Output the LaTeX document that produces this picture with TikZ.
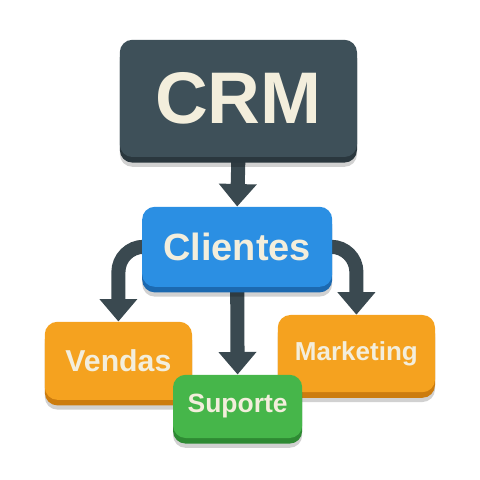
\documentclass[tikz,border=0pt]{standalone}
\usepackage{fontspec}
\setmainfont{Liberation Sans}
\usetikzlibrary{arrows.meta,shadows,backgrounds}
\definecolor{cream}{HTML}{F3EEDC}
\definecolor{slate}{HTML}{3E5059}
\definecolor{slatedark}{HTML}{2A373E}
\definecolor{skyblue}{HTML}{2B8FE3}
\definecolor{skybluedark}{HTML}{1C69B0}
\definecolor{amber}{HTML}{F5A21F}
\definecolor{amberdark}{HTML}{CC7C0E}
\definecolor{leaf}{HTML}{46B64A}
\definecolor{leafdark}{HTML}{2E8A33}
\definecolor{linkgrey}{HTML}{3A4950}
\begin{document}
\begin{tikzpicture}
  \tikzstyle{box}=[rectangle,rounded corners=9pt,text=cream,inner sep=0pt]
  \tikzstyle{depth}=[drop shadow={shadow xshift=0pt,shadow yshift=-7pt,fill=black,opacity=0.18}]
  \tikzstyle{link}=[draw=linkgrey,line width=10pt,rounded corners=18pt,-{Triangle[width=26pt,length=16pt]}]
  \useasboundingbox (0,0) rectangle (12,12);
  % boxes
  \node [box,depth,fill=slate,drop shadow={shadow xshift=0pt,shadow yshift=-4pt,fill=slatedark,opacity=1},minimum width=5.93cm,minimum height=2.93cm,font=\bfseries\fontsize{52}{52}\selectfont] (crm) at (5.96,9.54) {CRM};
  \node [box,depth,fill=skyblue,drop shadow={shadow xshift=0pt,shadow yshift=-4pt,fill=skybluedark,opacity=1},minimum width=4.75cm,minimum height=2cm,font=\bfseries\fontsize{27}{27}\selectfont] (cli) at (5.93,5.83) {Clientes};
  \node [box,depth,fill=amber,drop shadow={shadow xshift=0pt,shadow yshift=-4pt,fill=amberdark,opacity=1},minimum width=3.68cm,minimum height=1.95cm,font=\bfseries\fontsize{21.5}{21.5}\selectfont] (ven) at (2.96,2.98) {Vendas};
  \node [box,depth,fill=amber,drop shadow={shadow xshift=0pt,shadow yshift=-4pt,fill=amberdark,opacity=1},minimum width=3.93cm,minimum height=1.93cm,font=\bfseries\fontsize{18.5}{18.5}\selectfont] (mkt) at (8.91,3.16) {Marketing};
  \node [box,depth,fill=leaf,drop shadow={shadow xshift=0pt,shadow yshift=-4pt,fill=leafdark,opacity=1},minimum width=3.23cm,minimum height=1.58cm,font=\bfseries\fontsize{18.8}{18.8}\selectfont] (sup) at (5.94,1.84) {Suporte};
  % links
  \begin{scope}[on background layer]
    \path[link] (crm.south) -- (cli.north);
    \path[link] (cli.west) -| (ven.north);
    \path[link] (cli.east) -| (mkt.north);
    \path[link] (cli.south) -- (sup.north);
  \end{scope}
\end{tikzpicture}
\end{document}
